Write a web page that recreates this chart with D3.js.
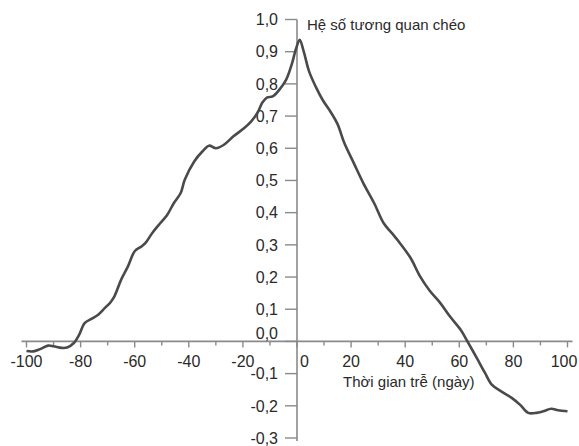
<!DOCTYPE html>
<html>
<head>
<meta charset="utf-8">
<script src="https://cdn.jsdelivr.net/npm/d3@7"></script>
<style>
  body { margin: 0; background: #fff; }
  text { font-family: "Liberation Sans", Arial, sans-serif; }
</style>
</head>
<body>
<div id="chart"></div>
<script>
// lag (days) and cross-correlation values
const lags = [-100, -97.5, -95, -92, -90, -87, -85, -82.5, -80.5, -78.5, -76, -73.5, -71, -69, -67.5,
  -65, -62.5, -60, -57.5, -56, -53.5, -50.5, -48, -45.5, -43, -41.5, -38, -35, -32.5, -30, -27,
  -23.5, -19.5, -17, -14.5, -12.8, -11, -9, -6.5, -4, -2, -0.3, 1, 2.5, 4.5, 7, 9.5, 12.5, 15,
  17.5, 21, 24.5, 28.5, 32, 35, 38, 42, 45.5, 49, 53, 56.5, 60.5, 63, 66.5, 69.5, 72, 75.5,
  79.5, 82.5, 85.5, 88.5, 91, 94, 96.5, 100]
const corr = [-0.030, -0.031, -0.024, -0.013, -0.015, -0.020, -0.019, -0.005, 0.021, 0.057, 0.070, 0.083, 0.104, 0.121, 0.140,
  0.192, 0.233, 0.280, 0.295, 0.306, 0.337, 0.368, 0.393, 0.430, 0.461, 0.502, 0.559, 0.590, 0.608, 0.600, 0.611,
  0.637, 0.663, 0.683, 0.712, 0.742, 0.758, 0.761, 0.782, 0.813, 0.859, 0.911, 0.937, 0.900, 0.838, 0.790, 0.750, 0.712, 0.675,
  0.616, 0.554, 0.492, 0.430, 0.368, 0.337, 0.306, 0.259, 0.202, 0.158, 0.119, 0.078, 0.036, 0.000, -0.052, -0.098, -0.134, -0.155,
  -0.176, -0.197, -0.222, -0.222, -0.217, -0.209, -0.214, -0.217]
const xTicks = [-100, -80, -60, -40, -20, 0, 20, 40, 60, 80, 100]
const xMinorTicks = [-90, -70, -50, -30, -10, 10, 30, 50, 70, 90]
const yTicks = [-0.3, -0.2, -0.1, 0.0, 0.1, 0.2, 0.3, 0.4, 0.5, 0.6, 0.7, 0.8, 0.9, 1.0]
const yTitle = 'Hệ số tương quan chéo'
const xTitle = 'Thời gian trễ (ngày)'

var chart_width  = 579;
var chart_height = 446;
var axis_color   = '#8a8a8a';
var text_color   = '#2a2a2a';

var svg = d3.select( '#chart' )
    .append( 'svg' )
    .attr( 'width', chart_width )
    .attr( 'height', chart_height );

const x_scale = d3.scaleLinear()
    .domain([ -100, 100 ])
    .range([ 26.5, 567.5 ])

const y_scale = d3.scaleLinear()
    .domain([ -0.3, 1.0 ])
    .range([ 438, 19.5 ])

const fmt = d => d3.format( '.1f' )(d).replace( '.', ',' ).replace( '−', '-' )

// x axis line, crossing at y = 0
svg.append( 'line' )
    .attr( 'x1', x_scale(-100) - 5 )
    .attr( 'x2', x_scale(100) + 5 )
    .attr( 'y1', y_scale(0) )
    .attr( 'y2', y_scale(0) )
    .attr( 'stroke', axis_color )
    .attr( 'stroke-width', 1.6 );

svg.selectAll( '.xtick' )
    .data( xTicks )
    .enter()
    .append( 'line' )
    .attr( 'class', 'xtick' )
    .attr( 'x1', d => x_scale(d) )
    .attr( 'x2', d => x_scale(d) )
    .attr( 'y1', y_scale(0) )
    .attr( 'y2', y_scale(0) + 6 )
    .attr( 'stroke', axis_color )
    .attr( 'stroke-width', 1.4 );

svg.selectAll( '.xminor' )
    .data( xMinorTicks )
    .enter()
    .append( 'line' )
    .attr( 'class', 'xminor' )
    .attr( 'x1', d => x_scale(d) )
    .attr( 'x2', d => x_scale(d) )
    .attr( 'y1', y_scale(0) )
    .attr( 'y2', y_scale(0) + 4 )
    .attr( 'stroke', axis_color )
    .attr( 'stroke-width', 1.4 );

// labels: "0" sits right of the y axis, last one kept inside the frame
svg.selectAll( '.xlabel' )
    .data( xTicks )
    .enter()
    .append( 'text' )
    .attr( 'class', 'xlabel' )
    .text( d => d )
    .attr( 'x', d => Math.min( x_scale(d) + (d === 0 ? 7.5 : 0), chart_width - 15 ) )
    .attr( 'y', y_scale(0) + 26 )
    .attr( 'font-size', 16 )
    .attr( 'fill', text_color )
    .attr( 'text-anchor', 'middle' );

// y axis line, at x = 0
svg.append( 'line' )
    .attr( 'x1', x_scale(0) )
    .attr( 'x2', x_scale(0) )
    .attr( 'y1', y_scale(1.0) )
    .attr( 'y2', y_scale(-0.3) + 3 )
    .attr( 'stroke', axis_color )
    .attr( 'stroke-width', 1.6 );

svg.selectAll( '.ytick' )
    .data( yTicks )
    .enter()
    .append( 'line' )
    .attr( 'class', 'ytick' )
    .attr( 'x1', x_scale(0) - 12 )
    .attr( 'x2', x_scale(0) )
    .attr( 'y1', d => y_scale(d) )
    .attr( 'y2', d => y_scale(d) )
    .attr( 'stroke', axis_color )
    .attr( 'stroke-width', 1.4 );

svg.selectAll( '.ylabel' )
    .data( yTicks )
    .enter()
    .append( 'text' )
    .attr( 'class', 'ylabel' )
    .text( d => fmt(d) )
    .attr( 'x', x_scale(0) - 19 )
    .attr( 'y', d => y_scale(d) + 5.8 - (d === 0 ? 8 : 0) )
    .attr( 'font-size', 16 )
    .attr( 'fill', text_color )
    .attr( 'text-anchor', 'end' );

// axis titles
svg.append( 'text' )
    .text( yTitle )
    .attr( 'x', x_scale(0) + 10 )
    .attr( 'y', 30 )
    .attr( 'font-size', 15 )
    .attr( 'fill', text_color );

svg.append( 'text' )
    .text( xTitle )
    .attr( 'x', 343 )
    .attr( 'y', 387 )
    .attr( 'font-size', 15 )
    .attr( 'fill', text_color );

// correlation curve
const line = d3.line()
    .x( (d, i) => x_scale(lags[i]) )
    .y( d => y_scale(d) )
    .curve( d3.curveCatmullRom.alpha(0.5) )

svg.append( 'path' )
    .datum( corr )
    .attr( 'd', line )
    .attr( 'fill', 'none' )
    .attr( 'stroke', '#4a4a4a' )
    .attr( 'stroke-width', 2.6 )
    .attr( 'stroke-linejoin', 'round' );
</script>
</body>
</html>
